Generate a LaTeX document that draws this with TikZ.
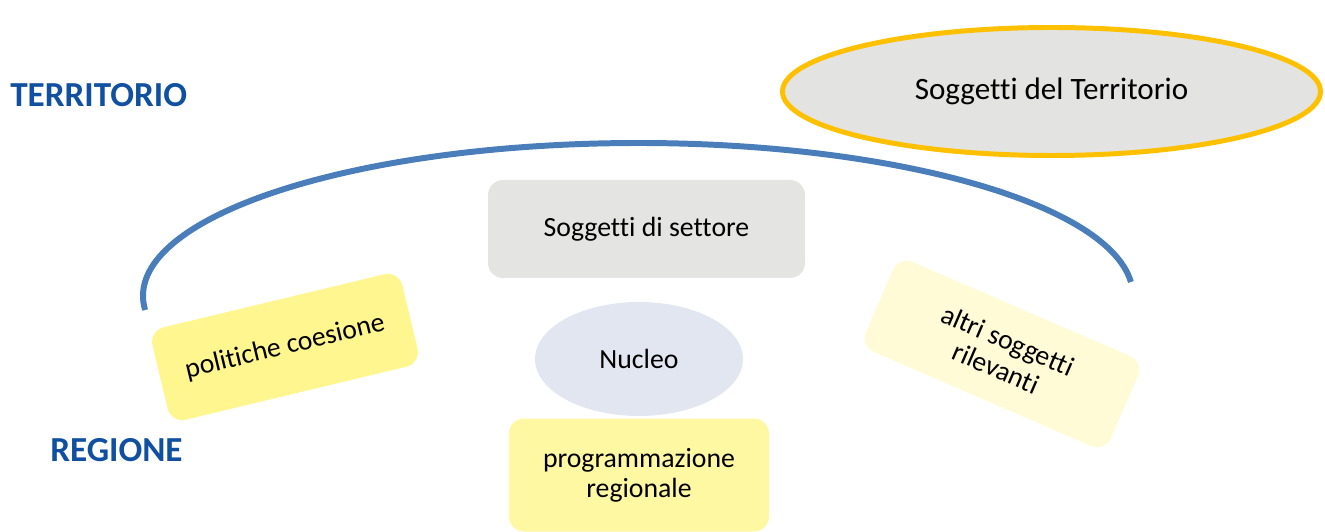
\documentclass[tikz,border=0pt]{standalone}
\usepackage{fontspec}
\setmainfont{Carlito}[Ligatures=NoCommon]
\usetikzlibrary{shapes.geometric}

\definecolor{titleblue}{HTML}{1050A0}
\definecolor{arcblue}{HTML}{4A7EBB}
\definecolor{terrgray}{HTML}{E3E3E1}
\definecolor{terrgold}{HTML}{FFC000}
\definecolor{settgray}{HTML}{E4E4E2}
\definecolor{nucleoblue}{HTML}{E2E6F0}
\definecolor{progyellow}{HTML}{FFF8A3}
\definecolor{polyellow}{HTML}{FFF68F}
\definecolor{altriyellow}{HTML}{FFFBD6}

\tikzset{
  level/.style={anchor=west,inner sep=0pt,text=titleblue,font=\bfseries\fontsize{20}{24}\selectfont},
  box/.style={rectangle,rounded corners=0.3cm,inner sep=0pt,align=center,
    font=\fontsize{15.8}{17}\selectfont},
}

\begin{document}
\begin{tikzpicture}
\useasboundingbox (0,0) rectangle (26.5,10.62);
\coordinate (arcc) at (12.76,4.70);
\draw[arcblue,line width=3.4pt] ([shift={(185.25:9.9cm and 3.06cm)}]arcc)
  arc[start angle=185.25,end angle=5.25,x radius=9.9cm,y radius=3.06cm];

\path (0.2,8.72) node[level] (terr) {TERRITORIO};
\path (1.0,1.62) node[level] (reg) {REGIONE};

\path (21.03,8.79) node[ellipse,draw=terrgold,fill=terrgray,line width=2.83pt,
  minimum width=10.76cm,minimum height=2.56cm,inner sep=0pt,
  font=\fontsize{17.7}{21}\selectfont] (sterr) {\raisebox{0.1cm}{Soggetti del Territorio}};

\path (12.93,6.04) node[box,fill=settgray,minimum width=6.34cm,minimum height=1.96cm]
  (sett) {Soggetti di settore};
\path (12.78,3.44) node[ellipse,fill=nucleoblue,minimum width=4.16cm,minimum height=2.28cm,
  inner sep=0pt,font=\fontsize{15.8}{19}\selectfont] (nucleo) {Nucleo};
\path (12.78,1.12) node[box,fill=progyellow,minimum width=5.2cm,minimum height=2.26cm]
  (prog) {programmazione\\regionale};

\path (5.70,3.68) node[box,fill=polyellow,rotate=13.5,minimum width=5.14cm,minimum height=1.9cm]
  (pol) {politiche coesione};
\path (20.04,3.54) node[box,fill=altriyellow,rotate=-23.4,minimum width=5.34cm,minimum height=1.96cm]
  (altri) {altri soggetti\\rilevanti};
\end{tikzpicture}
\end{document}
